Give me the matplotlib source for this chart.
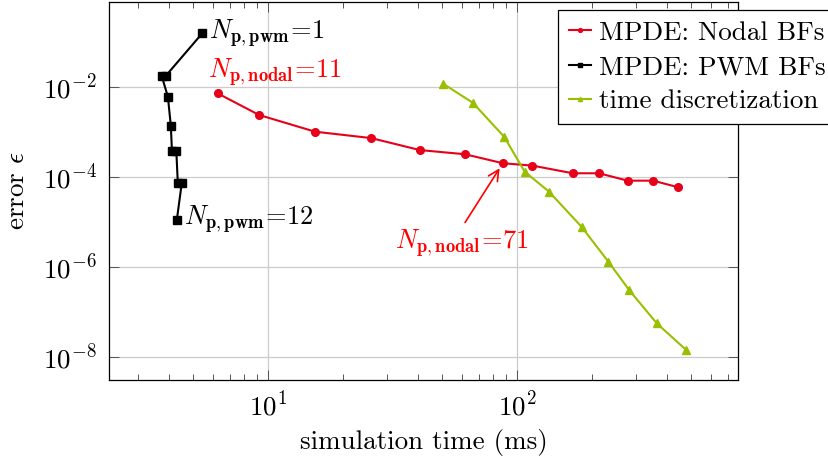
import matplotlib
matplotlib.use("Agg")
import matplotlib.pyplot as plt
from matplotlib.ticker import LogLocator, NullFormatter

plt.rcParams['font.family'] = ['cmr10', 'DejaVu Serif']
plt.rcParams['mathtext.fontset'] = 'cm'
plt.rcParams['axes.formatter.use_mathtext'] = True
plt.rcParams['axes.unicode_minus'] = False

# data
nodal_time = [6.26, 9.18, 15.4, 25.9, 40.6, 61.7, 87.4, 115, 167, 213, 277, 351, 443]
nodal_err = [7.1e-3, 2.35e-3, 1.0e-3, 7.2e-4, 3.9e-4, 3.15e-4, 1.99e-4, 1.76e-4, 1.19e-4, 1.19e-4, 8.15e-5, 8.15e-5, 5.8e-5]

pwm_time = [5.43, 3.87, 3.73, 3.95, 4.06, 4.10, 4.27, 4.33, 4.49, 4.29]
pwm_err = [0.154, 0.0173, 0.0173, 6.0e-3, 1.34e-3, 3.78e-4, 3.78e-4, 7.1e-5, 7.1e-5, 1.09e-5]

td_time = [50.5, 66.2, 88.5, 107, 134, 181, 232, 281, 363, 476]
td_err = [1.15e-2, 4.4e-3, 7.7e-4, 1.29e-4, 4.64e-5, 7.7e-6, 1.29e-6, 3.03e-7, 5.5e-8, 1.41e-8]

RED = '#E6001A'
GREEN = '#99C000'
TXTRED = '#FF0000'
FS = 19.5
AFS = 19

W, H = 829, 463
fig = plt.figure(figsize=(W / 100, H / 100), dpi=100)
ax = fig.add_axes([109.3 / W, 1 - 380 / H, (738 - 109.3) / W, (380 - 2) / H])

ax.set_xscale('log')
ax.set_yscale('log')
ax.set_xlim(2.298, 769)
ax.set_ylim(3.03e-9, 0.762)

ax.plot(nodal_time, nodal_err, color=RED, lw=1.5, marker='o', ms=5.5,
        label='MPDE: Nodal BFs', zorder=3)
ax.plot(pwm_time, pwm_err, color='black', lw=1.5, marker='s', ms=5.5,
        label='MPDE: PWM BFs', zorder=3)
ax.plot(td_time, td_err, color=GREEN, lw=1.5, marker='^', ms=6,
        label='time discretization', zorder=3)

# ticks
ax.xaxis.set_major_locator(LogLocator(base=10, numticks=10))
ax.xaxis.set_minor_locator(LogLocator(base=10, subs=range(2, 10), numticks=10))
ax.xaxis.set_minor_formatter(NullFormatter())
ax.set_yticks([1e-2, 1e-4, 1e-6, 1e-8])
ax.yaxis.set_minor_locator(plt.NullLocator())
ax.tick_params(which='both', direction='in', top=True, right=True, labelsize=FS,
               color='#555555', width=0.7)
ax.tick_params(which='major', length=7)
ax.tick_params(axis='x', which='major', pad=8)
ax.tick_params(axis='y', which='major', pad=9)
ax.tick_params(which='minor', length=4.5)
ax.grid(True, which='major', color='#cccccc', lw=0.9, zorder=0)
for s in ax.spines.values():
    s.set_linewidth(0.9)

ax.set_xlabel('simulation time (ms)', fontsize=FS, labelpad=6)
ax.set_ylabel(r'error $\epsilon$', fontsize=FS, labelpad=10)

# annotations
ax.annotate(r'$N_{\mathbf{p,pwm}}\!=\!1$', xy=(pwm_time[0], pwm_err[0]),
            xytext=(7, 0), textcoords='offset pixels', fontsize=AFS,
            va='center', ha='left', color='black')
ax.annotate(r'$N_{\mathbf{p,pwm}}\!=\!12$', xy=(pwm_time[-1], pwm_err[-1]),
            xytext=(7, 1), textcoords='offset pixels', fontsize=AFS,
            va='center', ha='left', color='black')
ax.annotate(r'$N_{\mathbf{p,nodal}}\!=\!11$', xy=(nodal_time[0], nodal_err[0]),
            xytext=(-10, 21), textcoords='offset pixels', fontsize=AFS,
            va='center', ha='left', color=TXTRED)
ax.annotate(r'$N_{\mathbf{p,nodal}}\!=\!71$', xy=(nodal_time[6], nodal_err[6]),
            xytext=(-41, -80), textcoords='offset pixels', fontsize=AFS,
            va='center', ha='center', color=TXTRED,
            arrowprops=dict(arrowstyle='->', color=TXTRED, lw=1.2,
                            relpos=(0.5, 1.0), shrinkA=2, shrinkB=4.3))

leg = ax.legend(loc='upper left', bbox_to_anchor=(558 / W, 1 - 10 / H),
                bbox_transform=fig.transFigure, fontsize=FS, frameon=True,
                fancybox=False, framealpha=1, edgecolor='black',
                handlelength=0.81, handletextpad=0.3, borderpad=0.4,
                labelspacing=0.38, markerscale=0.5, borderaxespad=0)
leg.get_frame().set_linewidth(0.9)

fig.savefig('out.png', dpi=100)
